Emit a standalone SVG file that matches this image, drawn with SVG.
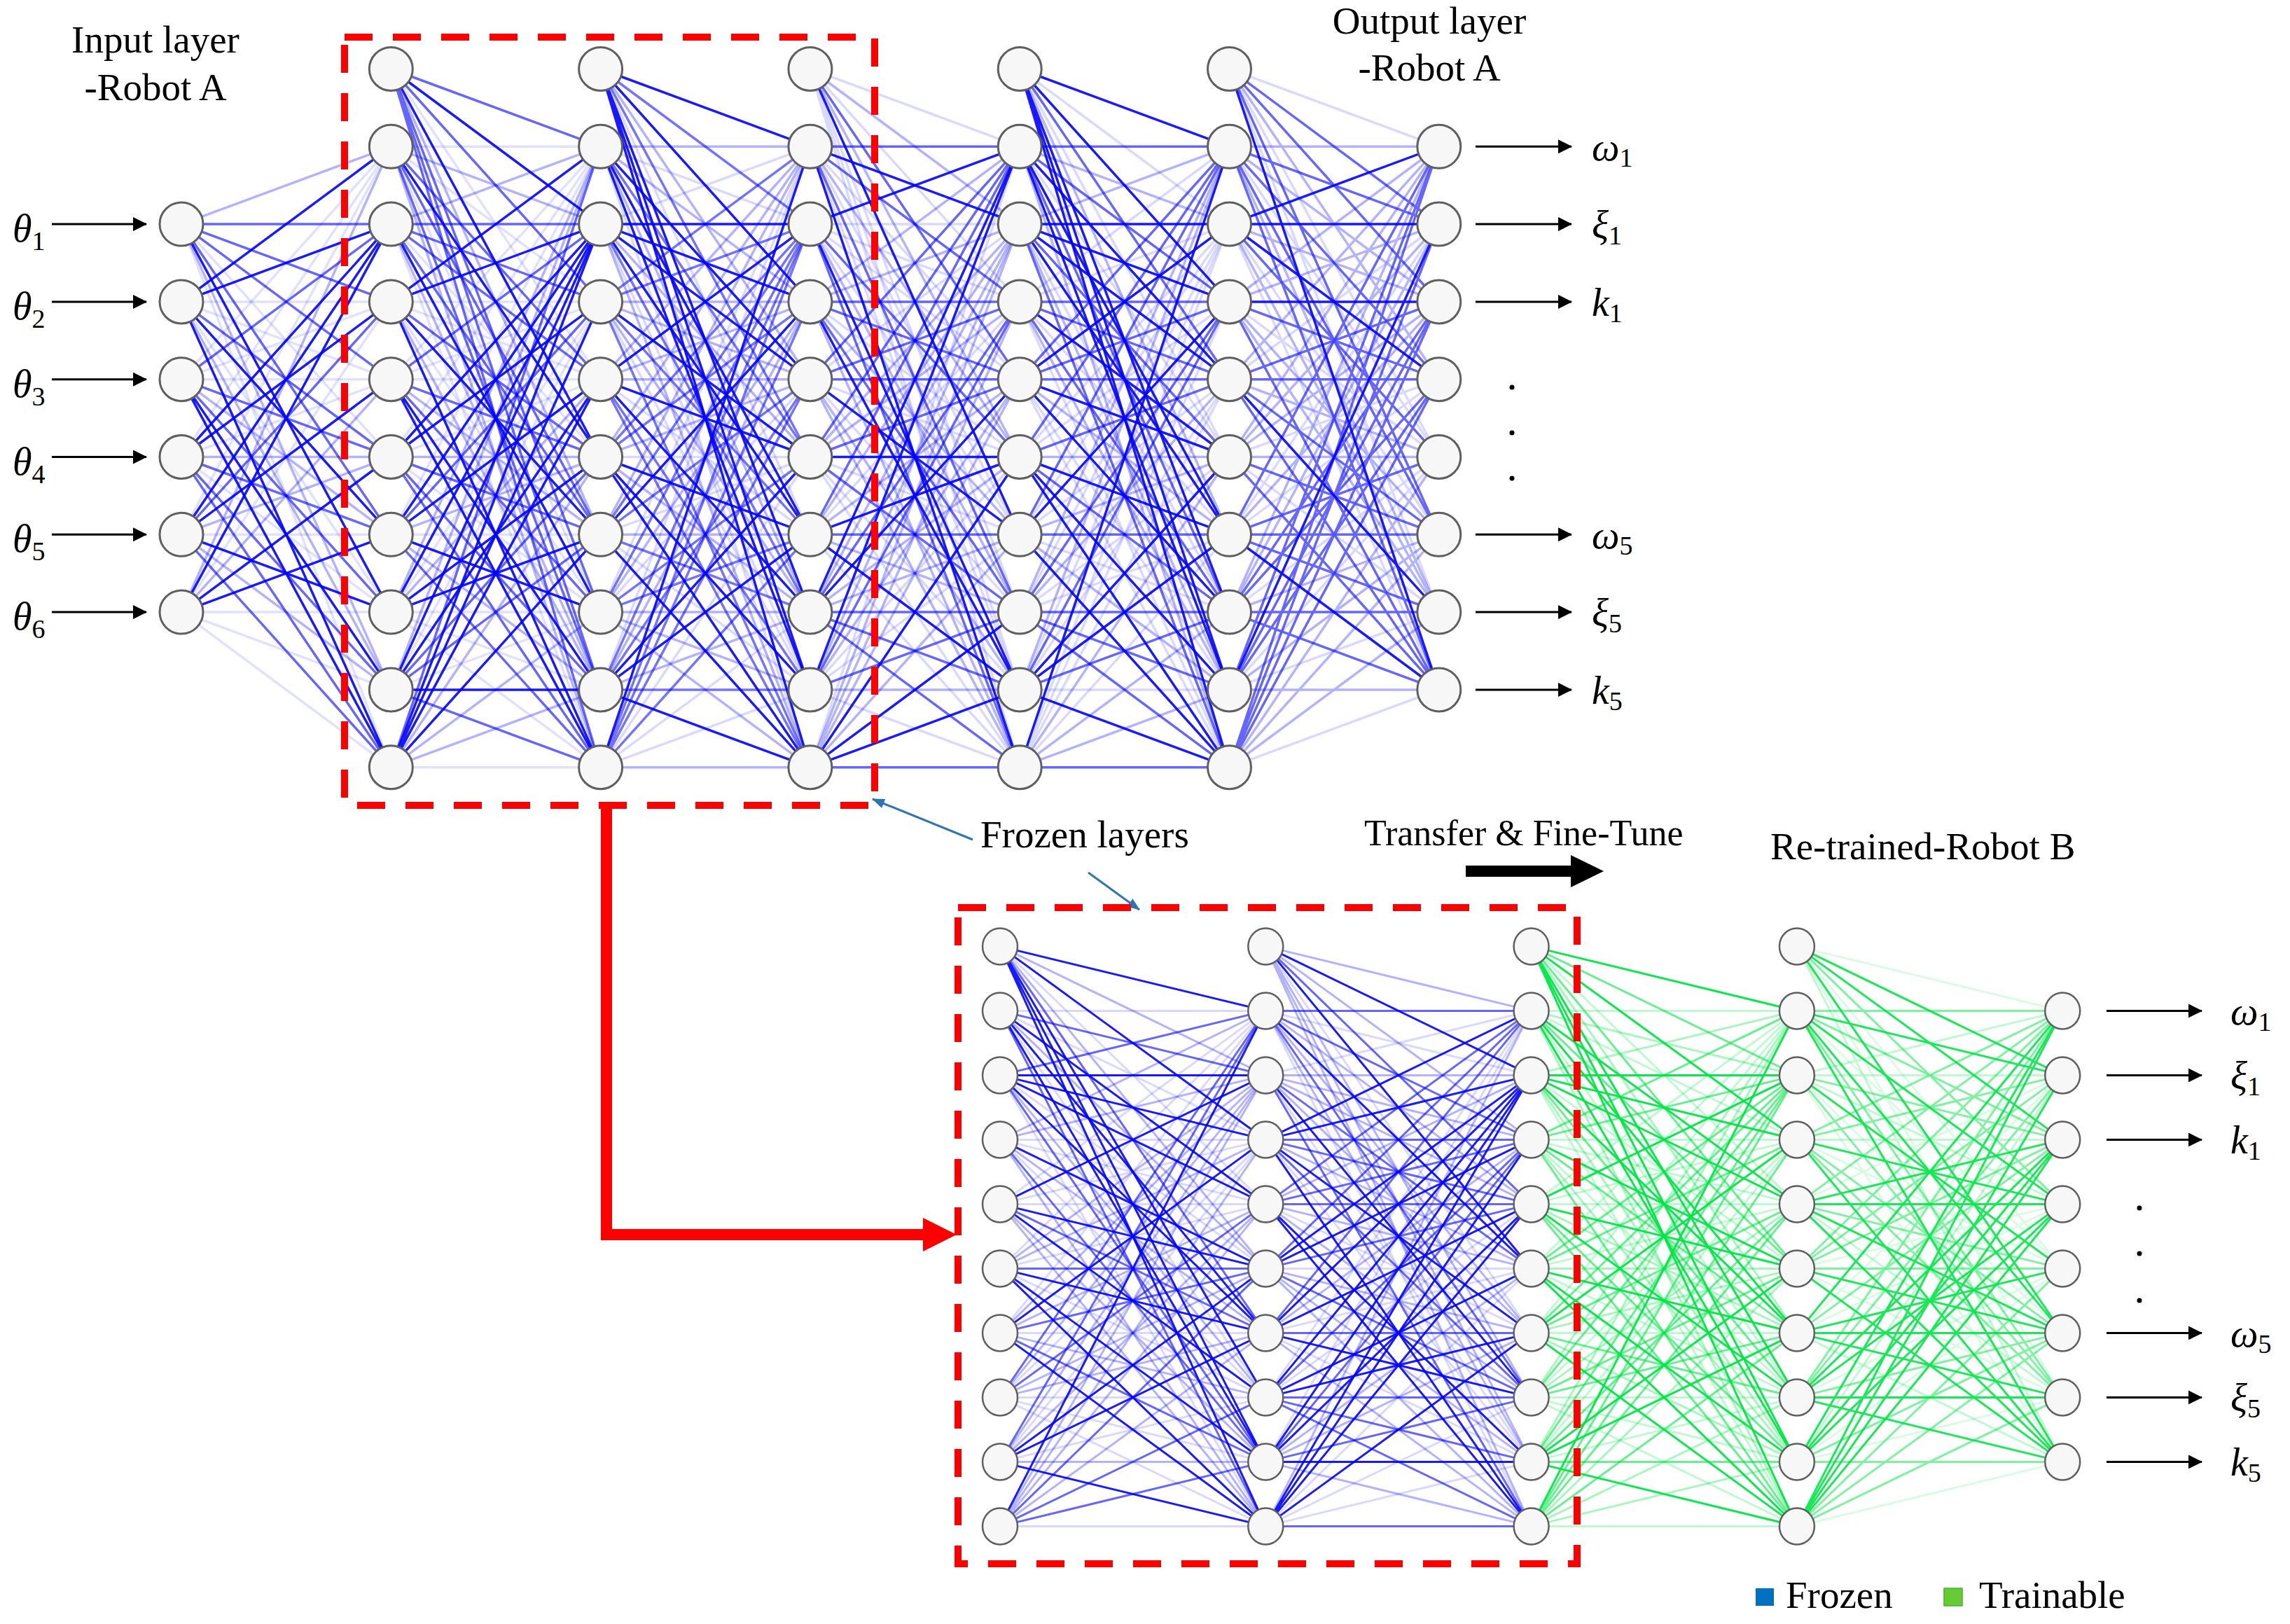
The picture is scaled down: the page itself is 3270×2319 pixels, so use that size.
<svg xmlns="http://www.w3.org/2000/svg" width="3270" height="2319" viewBox="0 0 3270 2319">
<style>
text{font-family:"Liberation Serif","Times New Roman",serif;fill:#000}
.lbl{font-size:55px}
.sym{font-size:56px;font-style:italic}
.sub{font-size:38px;font-style:normal}
.nt{fill:#f7f7f7;stroke:#5f5f5f;stroke-width:3}
.nb{fill:#f7f7f7;stroke:#5f5f5f;stroke-width:2.5}
.a,.b,.c,.d{fill:none;vector-effect:non-scaling-stroke}
.a{stroke-opacity:var(--a,.9)}
.b{stroke-opacity:var(--b,.6)}
.c{stroke-opacity:var(--c,.3)}
.d{stroke-opacity:var(--d,.12)}
.box{fill:none;stroke:#ff0000;stroke-width:10;stroke-dasharray:40 29}
.io{stroke:#000;stroke-width:3;marker-end:url(#ah)}
.ld{stroke:#2e75b6;stroke-width:3;marker-end:url(#lh)}
.dot{fill:#000}
</style>
<defs>
<marker id="ah" markerUnits="userSpaceOnUse" markerWidth="20" markerHeight="20" viewBox="0 0 20 20" refX="19" refY="10" orient="auto"><path d="M0,0L20,10L0,20z" fill="#000"/></marker>
<marker id="lh" markerUnits="userSpaceOnUse" markerWidth="18" markerHeight="14" viewBox="0 0 18 14" refX="17" refY="7" orient="auto"><path d="M0,0L18,7L0,14z" fill="#2e75b6"/></marker>
<g id="r0"><path class="a" d="M0,0L100,20M0,0L100,50"/><path class="b" d="M0,0L100,10M0,0L100,30M0,0L100,70M0,0L100,80M0,0L100,90"/><path class="c" d="M0,0L100,60"/><path class="d" d="M0,0L100,40"/></g>
<g id="r1"><path class="a" d="M0,10L100,50"/><path class="b" d="M0,10L100,40M0,10L100,60M0,10L100,80"/><path class="c" d="M0,10L100,20M0,10L100,90"/><path class="d" d="M0,10L100,10M0,10L100,30M0,10L100,70"/></g>
<g id="r2"><path class="a" d="M0,20L100,70"/><path class="b" d="M0,20L100,20M0,20L100,30M0,20L100,40M0,20L100,60"/><path class="c" d="M0,20L100,10M0,20L100,80"/><path class="d" d="M0,20L100,50M0,20L100,90"/></g>
<g id="r3"><path class="a" d="M0,30L100,10M0,30L100,20M0,30L100,60M0,30L100,90"/><path class="b" d="M0,30L100,50"/><path class="c" d="M0,30L100,80"/><path class="d" d="M0,30L100,30M0,30L100,40M0,30L100,70"/></g>
<g id="r4"><path class="a" d="M0,40L100,80M0,40L100,90"/><path class="b" d="M0,40L100,20M0,40L100,50M0,40L100,70"/><path class="c" d="M0,40L100,60"/><path class="d" d="M0,40L100,10M0,40L100,30M0,40L100,40"/></g>
<g id="r5"><path class="a" d="M0,50L100,20M0,50L100,30"/><path class="b" d="M0,50L100,60M0,50L100,80M0,50L100,90"/><path class="c" d="M0,50L100,50"/><path class="d" d="M0,50L100,10M0,50L100,40M0,50L100,70"/></g>
<g id="r6"><path class="a" d="M0,60L100,20M0,60L100,40M0,60L100,70"/><path class="b" d="M0,60L100,30M0,60L100,90"/><path class="c" d="M0,60L100,50M0,60L100,80"/><path class="d" d="M0,60L100,10M0,60L100,60"/></g>
<g id="r7"><path class="a" d="M0,70L100,20M0,70L100,50M0,70L100,60"/><path class="c" d="M0,70L100,10M0,70L100,40"/><path class="d" d="M0,70L100,30M0,70L100,70M0,70L100,80M0,70L100,90"/></g>
<g id="r8"><path class="a" d="M0,80L100,20M0,80L100,40M0,80L100,80"/><path class="b" d="M0,80L100,50M0,80L100,60M0,80L100,90"/><path class="c" d="M0,80L100,10"/><path class="d" d="M0,80L100,30M0,80L100,70"/></g>
<g id="r9"><path class="a" d="M0,90L100,20M0,90L100,30M0,90L100,40M0,90L100,60"/><path class="b" d="M0,90L100,10"/><path class="c" d="M0,90L100,50M0,90L100,70M0,90L100,80"/><path class="d" d="M0,90L100,90"/></g>
<g id="blk"><use href="#r0"/><use href="#r1"/><use href="#r2"/><use href="#r3"/><use href="#r4"/><use href="#r5"/><use href="#r6"/><use href="#r7"/><use href="#r8"/><use href="#r9"/></g>
<g id="inb"><use href="#r2"/><use href="#r3"/><use href="#r4"/><use href="#r5"/><use href="#r6"/><use href="#r7"/></g>
<g id="ob">
<path class="a" d="M0,0L100,20M0,0L100,30M0,0L100,60M0,10L100,20M0,10L100,40M0,10L100,60M0,10L100,80M0,20L100,50M0,30L100,40M0,30L100,80M0,40L100,30M0,40L100,40M0,40L100,60M0,40L100,80M0,50L100,60M0,50L100,80M0,60L100,10M0,60L100,50M0,60L100,60M0,60L100,70M0,70L100,30M0,70L100,40M0,70L100,70M0,70L100,80M0,80L100,10M0,80L100,30M0,80L100,40M0,90L100,10M0,90L100,20M0,90L100,30M0,90L100,40"/>
<path class="b" d="M0,0L100,40M0,10L100,10M0,10L100,30M0,10L100,70M0,20L100,30M0,20L100,70M0,30L100,10M0,30L100,20M0,30L100,60M0,30L100,70M0,40L100,10M0,40L100,50M0,50L100,10M0,50L100,20M0,50L100,30M0,50L100,50M0,60L100,30M0,70L100,10M0,70L100,20M0,70L100,60M0,80L100,60M0,80L100,80M0,90L100,50M0,90L100,60M0,90L100,70"/>
<path class="c" d="M0,0L100,80M0,20L100,10M0,20L100,20M0,20L100,40M0,30L100,30M0,40L100,70M0,60L100,80M0,80L100,20"/>
<path class="d" d="M0,0L100,10M0,0L100,50M0,0L100,70M0,10L100,50M0,20L100,60M0,20L100,80M0,30L100,50M0,40L100,20M0,50L100,40M0,50L100,70M0,60L100,20M0,60L100,40M0,70L100,50M0,80L100,50M0,80L100,70M0,90L100,80"/>
</g>
</defs>
<rect width="3270" height="2319" fill="#fff"/>
<g id="connectors">
<g id="links-top" stroke="#0000ff" stroke-width="3.5">
<use href="#inb" transform="translate(259,98.5) scale(2.993,11.08)" style="--a:.9;--b:.6;--c:.3;--d:.12"/>
<use href="#blk" transform="translate(558.3,98.5) scale(2.993,11.08)"/>
<use href="#blk" transform="translate(857.6,98.5) scale(2.993,11.08)" style="--a:.55;--b:.9;--c:.15;--d:.3"/>
<use href="#blk" transform="translate(1156.9,98.5) scale(2.993,11.08)" style="--a:.3;--b:.15;--c:.9;--d:.6"/>
<use href="#blk" transform="translate(1456.2,98.5) scale(2.993,11.08)" style="--a:.15;--b:.9;--c:.3;--d:.6"/>
<use href="#ob" transform="translate(1755.5,98.5) scale(2.993,11.08)" style="--a:.6;--b:.3;--c:.9;--d:.15"/>
</g>
<g id="links-frozen" stroke="#0000ff" stroke-width="3">
<use href="#blk" transform="translate(1428,1351.4) scale(3.793,9.2)" style="--a:.3;--b:.9;--c:.6;--d:.15"/>
<use href="#blk" transform="translate(1807.3,1351.4) scale(3.793,9.2)" style="--a:.9;--b:.3;--c:.15;--d:.6"/>
</g>
<g id="links-trainable" stroke="#00e646" stroke-width="3">
<use href="#blk" transform="translate(2186.6,1351.4) scale(3.793,9.2)" style="--a:.6;--b:.95;--c:.35;--d:.25"/>
<use href="#ob" transform="translate(2565.9,1351.4) scale(3.793,9.2)" style="--a:.9;--b:.5;--c:.25;--d:.15"/>
</g>
<g id="io-arrows">
<line class="io" x1="74" y1="320.1" x2="209" y2="320.1"/>
<line class="io" x1="74" y1="430.9" x2="209" y2="430.9"/>
<line class="io" x1="74" y1="541.7" x2="209" y2="541.7"/>
<line class="io" x1="74" y1="652.5" x2="209" y2="652.5"/>
<line class="io" x1="74" y1="763.3" x2="209" y2="763.3"/>
<line class="io" x1="74" y1="874.1" x2="209" y2="874.1"/>
<line class="io" x1="2107" y1="209.3" x2="2244" y2="209.3"/>
<line class="io" x1="2107" y1="320.1" x2="2244" y2="320.1"/>
<line class="io" x1="2107" y1="430.9" x2="2244" y2="430.9"/>
<line class="io" x1="2107" y1="763.3" x2="2244" y2="763.3"/>
<line class="io" x1="2107" y1="874.1" x2="2244" y2="874.1"/>
<line class="io" x1="2107" y1="984.9" x2="2244" y2="984.9"/>
<line class="io" x1="3008" y1="1443.4" x2="3144" y2="1443.4"/>
<line class="io" x1="3008" y1="1535.4" x2="3144" y2="1535.4"/>
<line class="io" x1="3008" y1="1627.4" x2="3144" y2="1627.4"/>
<line class="io" x1="3008" y1="1903.4" x2="3144" y2="1903.4"/>
<line class="io" x1="3008" y1="1995.4" x2="3144" y2="1995.4"/>
<line class="io" x1="3008" y1="2087.4" x2="3144" y2="2087.4"/>
</g>
<g id="transfer-arrow"><path d="M866,1150V1763H1322" fill="none" stroke="#ff0000" stroke-width="16"/><path d="M1318,1739L1366,1763L1318,1787z" fill="#ff0000"/></g>
<g id="finetune-arrow"><path d="M2093,1236H2243V1221L2290,1244L2243,1267V1252H2093z" fill="#000"/></g>
<g id="leaders"><line class="ld" x1="1389" y1="1199" x2="1246" y2="1141"/><line class="ld" x1="1554" y1="1246" x2="1627" y2="1299"/></g>
</g>
<g id="frozen-box-top"><rect class="box" x="492" y="53" width="757" height="1097"/></g>
<g id="frozen-box-bottom"><rect class="box" x="1368" y="1296" width="884" height="937"/></g>
<g id="nodes-top">
<g id="in1"><circle class="nt" cx="259" cy="320.1" r="31"/></g>
<g id="in2"><circle class="nt" cx="259" cy="430.9" r="31"/></g>
<g id="in3"><circle class="nt" cx="259" cy="541.7" r="31"/></g>
<g id="in4"><circle class="nt" cx="259" cy="652.5" r="31"/></g>
<g id="in5"><circle class="nt" cx="259" cy="763.3" r="31"/></g>
<g id="in6"><circle class="nt" cx="259" cy="874.1" r="31"/></g>
<g id="h1n0"><circle class="nt" cx="558.3" cy="98.5" r="31"/></g>
<g id="h1n1"><circle class="nt" cx="558.3" cy="209.3" r="31"/></g>
<g id="h1n2"><circle class="nt" cx="558.3" cy="320.1" r="31"/></g>
<g id="h1n3"><circle class="nt" cx="558.3" cy="430.9" r="31"/></g>
<g id="h1n4"><circle class="nt" cx="558.3" cy="541.7" r="31"/></g>
<g id="h1n5"><circle class="nt" cx="558.3" cy="652.5" r="31"/></g>
<g id="h1n6"><circle class="nt" cx="558.3" cy="763.3" r="31"/></g>
<g id="h1n7"><circle class="nt" cx="558.3" cy="874.1" r="31"/></g>
<g id="h1n8"><circle class="nt" cx="558.3" cy="984.9" r="31"/></g>
<g id="h1n9"><circle class="nt" cx="558.3" cy="1095.7" r="31"/></g>
<g id="h2n0"><circle class="nt" cx="857.6" cy="98.5" r="31"/></g>
<g id="h2n1"><circle class="nt" cx="857.6" cy="209.3" r="31"/></g>
<g id="h2n2"><circle class="nt" cx="857.6" cy="320.1" r="31"/></g>
<g id="h2n3"><circle class="nt" cx="857.6" cy="430.9" r="31"/></g>
<g id="h2n4"><circle class="nt" cx="857.6" cy="541.7" r="31"/></g>
<g id="h2n5"><circle class="nt" cx="857.6" cy="652.5" r="31"/></g>
<g id="h2n6"><circle class="nt" cx="857.6" cy="763.3" r="31"/></g>
<g id="h2n7"><circle class="nt" cx="857.6" cy="874.1" r="31"/></g>
<g id="h2n8"><circle class="nt" cx="857.6" cy="984.9" r="31"/></g>
<g id="h2n9"><circle class="nt" cx="857.6" cy="1095.7" r="31"/></g>
<g id="h3n0"><circle class="nt" cx="1156.9" cy="98.5" r="31"/></g>
<g id="h3n1"><circle class="nt" cx="1156.9" cy="209.3" r="31"/></g>
<g id="h3n2"><circle class="nt" cx="1156.9" cy="320.1" r="31"/></g>
<g id="h3n3"><circle class="nt" cx="1156.9" cy="430.9" r="31"/></g>
<g id="h3n4"><circle class="nt" cx="1156.9" cy="541.7" r="31"/></g>
<g id="h3n5"><circle class="nt" cx="1156.9" cy="652.5" r="31"/></g>
<g id="h3n6"><circle class="nt" cx="1156.9" cy="763.3" r="31"/></g>
<g id="h3n7"><circle class="nt" cx="1156.9" cy="874.1" r="31"/></g>
<g id="h3n8"><circle class="nt" cx="1156.9" cy="984.9" r="31"/></g>
<g id="h3n9"><circle class="nt" cx="1156.9" cy="1095.7" r="31"/></g>
<g id="h4n0"><circle class="nt" cx="1456.2" cy="98.5" r="31"/></g>
<g id="h4n1"><circle class="nt" cx="1456.2" cy="209.3" r="31"/></g>
<g id="h4n2"><circle class="nt" cx="1456.2" cy="320.1" r="31"/></g>
<g id="h4n3"><circle class="nt" cx="1456.2" cy="430.9" r="31"/></g>
<g id="h4n4"><circle class="nt" cx="1456.2" cy="541.7" r="31"/></g>
<g id="h4n5"><circle class="nt" cx="1456.2" cy="652.5" r="31"/></g>
<g id="h4n6"><circle class="nt" cx="1456.2" cy="763.3" r="31"/></g>
<g id="h4n7"><circle class="nt" cx="1456.2" cy="874.1" r="31"/></g>
<g id="h4n8"><circle class="nt" cx="1456.2" cy="984.9" r="31"/></g>
<g id="h4n9"><circle class="nt" cx="1456.2" cy="1095.7" r="31"/></g>
<g id="h5n0"><circle class="nt" cx="1755.5" cy="98.5" r="31"/></g>
<g id="h5n1"><circle class="nt" cx="1755.5" cy="209.3" r="31"/></g>
<g id="h5n2"><circle class="nt" cx="1755.5" cy="320.1" r="31"/></g>
<g id="h5n3"><circle class="nt" cx="1755.5" cy="430.9" r="31"/></g>
<g id="h5n4"><circle class="nt" cx="1755.5" cy="541.7" r="31"/></g>
<g id="h5n5"><circle class="nt" cx="1755.5" cy="652.5" r="31"/></g>
<g id="h5n6"><circle class="nt" cx="1755.5" cy="763.3" r="31"/></g>
<g id="h5n7"><circle class="nt" cx="1755.5" cy="874.1" r="31"/></g>
<g id="h5n8"><circle class="nt" cx="1755.5" cy="984.9" r="31"/></g>
<g id="h5n9"><circle class="nt" cx="1755.5" cy="1095.7" r="31"/></g>
<g id="out1"><circle class="nt" cx="2054.8" cy="209.3" r="31"/></g>
<g id="out2"><circle class="nt" cx="2054.8" cy="320.1" r="31"/></g>
<g id="out3"><circle class="nt" cx="2054.8" cy="430.9" r="31"/></g>
<g id="out4"><circle class="nt" cx="2054.8" cy="541.7" r="31"/></g>
<g id="out5"><circle class="nt" cx="2054.8" cy="652.5" r="31"/></g>
<g id="out6"><circle class="nt" cx="2054.8" cy="763.3" r="31"/></g>
<g id="out7"><circle class="nt" cx="2054.8" cy="874.1" r="31"/></g>
<g id="out8"><circle class="nt" cx="2054.8" cy="984.9" r="31"/></g>
</g>
<g id="nodes-bottom">
<g id="b1n0"><ellipse class="nb" cx="1428" cy="1351.4" rx="25" ry="26"/></g>
<g id="b1n1"><ellipse class="nb" cx="1428" cy="1443.4" rx="25" ry="26"/></g>
<g id="b1n2"><ellipse class="nb" cx="1428" cy="1535.4" rx="25" ry="26"/></g>
<g id="b1n3"><ellipse class="nb" cx="1428" cy="1627.4" rx="25" ry="26"/></g>
<g id="b1n4"><ellipse class="nb" cx="1428" cy="1719.4" rx="25" ry="26"/></g>
<g id="b1n5"><ellipse class="nb" cx="1428" cy="1811.4" rx="25" ry="26"/></g>
<g id="b1n6"><ellipse class="nb" cx="1428" cy="1903.4" rx="25" ry="26"/></g>
<g id="b1n7"><ellipse class="nb" cx="1428" cy="1995.4" rx="25" ry="26"/></g>
<g id="b1n8"><ellipse class="nb" cx="1428" cy="2087.4" rx="25" ry="26"/></g>
<g id="b1n9"><ellipse class="nb" cx="1428" cy="2179.4" rx="25" ry="26"/></g>
<g id="b2n0"><ellipse class="nb" cx="1807.3" cy="1351.4" rx="25" ry="26"/></g>
<g id="b2n1"><ellipse class="nb" cx="1807.3" cy="1443.4" rx="25" ry="26"/></g>
<g id="b2n2"><ellipse class="nb" cx="1807.3" cy="1535.4" rx="25" ry="26"/></g>
<g id="b2n3"><ellipse class="nb" cx="1807.3" cy="1627.4" rx="25" ry="26"/></g>
<g id="b2n4"><ellipse class="nb" cx="1807.3" cy="1719.4" rx="25" ry="26"/></g>
<g id="b2n5"><ellipse class="nb" cx="1807.3" cy="1811.4" rx="25" ry="26"/></g>
<g id="b2n6"><ellipse class="nb" cx="1807.3" cy="1903.4" rx="25" ry="26"/></g>
<g id="b2n7"><ellipse class="nb" cx="1807.3" cy="1995.4" rx="25" ry="26"/></g>
<g id="b2n8"><ellipse class="nb" cx="1807.3" cy="2087.4" rx="25" ry="26"/></g>
<g id="b2n9"><ellipse class="nb" cx="1807.3" cy="2179.4" rx="25" ry="26"/></g>
<g id="b3n0"><ellipse class="nb" cx="2186.6" cy="1351.4" rx="25" ry="26"/></g>
<g id="b3n1"><ellipse class="nb" cx="2186.6" cy="1443.4" rx="25" ry="26"/></g>
<g id="b3n2"><ellipse class="nb" cx="2186.6" cy="1535.4" rx="25" ry="26"/></g>
<g id="b3n3"><ellipse class="nb" cx="2186.6" cy="1627.4" rx="25" ry="26"/></g>
<g id="b3n4"><ellipse class="nb" cx="2186.6" cy="1719.4" rx="25" ry="26"/></g>
<g id="b3n5"><ellipse class="nb" cx="2186.6" cy="1811.4" rx="25" ry="26"/></g>
<g id="b3n6"><ellipse class="nb" cx="2186.6" cy="1903.4" rx="25" ry="26"/></g>
<g id="b3n7"><ellipse class="nb" cx="2186.6" cy="1995.4" rx="25" ry="26"/></g>
<g id="b3n8"><ellipse class="nb" cx="2186.6" cy="2087.4" rx="25" ry="26"/></g>
<g id="b3n9"><ellipse class="nb" cx="2186.6" cy="2179.4" rx="25" ry="26"/></g>
<g id="b4n0"><ellipse class="nb" cx="2565.9" cy="1351.4" rx="25" ry="26"/></g>
<g id="b4n1"><ellipse class="nb" cx="2565.9" cy="1443.4" rx="25" ry="26"/></g>
<g id="b4n2"><ellipse class="nb" cx="2565.9" cy="1535.4" rx="25" ry="26"/></g>
<g id="b4n3"><ellipse class="nb" cx="2565.9" cy="1627.4" rx="25" ry="26"/></g>
<g id="b4n4"><ellipse class="nb" cx="2565.9" cy="1719.4" rx="25" ry="26"/></g>
<g id="b4n5"><ellipse class="nb" cx="2565.9" cy="1811.4" rx="25" ry="26"/></g>
<g id="b4n6"><ellipse class="nb" cx="2565.9" cy="1903.4" rx="25" ry="26"/></g>
<g id="b4n7"><ellipse class="nb" cx="2565.9" cy="1995.4" rx="25" ry="26"/></g>
<g id="b4n8"><ellipse class="nb" cx="2565.9" cy="2087.4" rx="25" ry="26"/></g>
<g id="b4n9"><ellipse class="nb" cx="2565.9" cy="2179.4" rx="25" ry="26"/></g>
<g id="bout1"><ellipse class="nb" cx="2945.2" cy="1443.4" rx="25" ry="26"/></g>
<g id="bout2"><ellipse class="nb" cx="2945.2" cy="1535.4" rx="25" ry="26"/></g>
<g id="bout3"><ellipse class="nb" cx="2945.2" cy="1627.4" rx="25" ry="26"/></g>
<g id="bout4"><ellipse class="nb" cx="2945.2" cy="1719.4" rx="25" ry="26"/></g>
<g id="bout5"><ellipse class="nb" cx="2945.2" cy="1811.4" rx="25" ry="26"/></g>
<g id="bout6"><ellipse class="nb" cx="2945.2" cy="1903.4" rx="25" ry="26"/></g>
<g id="bout7"><ellipse class="nb" cx="2945.2" cy="1995.4" rx="25" ry="26"/></g>
<g id="bout8"><ellipse class="nb" cx="2945.2" cy="2087.4" rx="25" ry="26"/></g>
</g>
<g id="labels">
<text class="lbl" x="222" y="75" text-anchor="middle">Input layer</text>
<text class="lbl" x="222" y="143" text-anchor="middle">-Robot A</text>
<text class="lbl" x="2041" y="48" text-anchor="middle">Output layer</text>
<text class="lbl" x="2041" y="115" text-anchor="middle">-Robot A</text>
<text class="lbl" x="1400" y="1210">Frozen layers</text>
<text class="lbl" x="1948" y="1207" style="font-size:52px">Transfer &amp; Fine-Tune</text>
<text class="lbl" x="2528" y="1227">Re-trained-Robot B</text>
<text class="sym" x="18" y="345">θ<tspan class="sub" dy="12">1</tspan></text>
<text class="sym" x="18" y="456">θ<tspan class="sub" dy="12">2</tspan></text>
<text class="sym" x="18" y="567">θ<tspan class="sub" dy="12">3</tspan></text>
<text class="sym" x="18" y="678">θ<tspan class="sub" dy="12">4</tspan></text>
<text class="sym" x="18" y="788">θ<tspan class="sub" dy="12">5</tspan></text>
<text class="sym" x="18" y="899">θ<tspan class="sub" dy="12">6</tspan></text>
<text class="sym" x="2273" y="229">ω<tspan class="sub" dy="9">1</tspan></text>
<text class="sym" x="2273" y="340">ξ<tspan class="sub" dy="9">1</tspan></text>
<text class="sym" x="2273" y="451">k<tspan class="sub" dy="9">1</tspan></text>
<text class="sym" x="2273" y="783">ω<tspan class="sub" dy="9">5</tspan></text>
<text class="sym" x="2273" y="894">ξ<tspan class="sub" dy="9">5</tspan></text>
<text class="sym" x="2273" y="1005">k<tspan class="sub" dy="9">5</tspan></text>
<text class="sym" x="3185" y="1463">ω<tspan class="sub" dy="9">1</tspan></text>
<text class="sym" x="3185" y="1555">ξ<tspan class="sub" dy="9">1</tspan></text>
<text class="sym" x="3185" y="1647">k<tspan class="sub" dy="9">1</tspan></text>
<text class="sym" x="3185" y="1923">ω<tspan class="sub" dy="9">5</tspan></text>
<text class="sym" x="3185" y="2015">ξ<tspan class="sub" dy="9">5</tspan></text>
<text class="sym" x="3185" y="2107">k<tspan class="sub" dy="9">5</tspan></text>
<circle class="dot" cx="2159" cy="553" r="3.5"/><circle class="dot" cx="2159" cy="618" r="3.5"/><circle class="dot" cx="2159" cy="683" r="3.5"/>
<circle class="dot" cx="3055" cy="1725" r="3.5"/><circle class="dot" cx="3055" cy="1790" r="3.5"/><circle class="dot" cx="3055" cy="1857" r="3.5"/>
</g>
<g id="legend">
<rect x="2507" y="2268" width="26" height="25" fill="#0070c0"/>
<text class="lbl" x="2550" y="2296">Frozen</text>
<rect x="2776" y="2268" width="26" height="25" fill="#66cc33" stroke="#4caf2a" stroke-width="1.5"/>
<text class="lbl" x="2826" y="2296">Trainable</text>
</g>
</svg>
